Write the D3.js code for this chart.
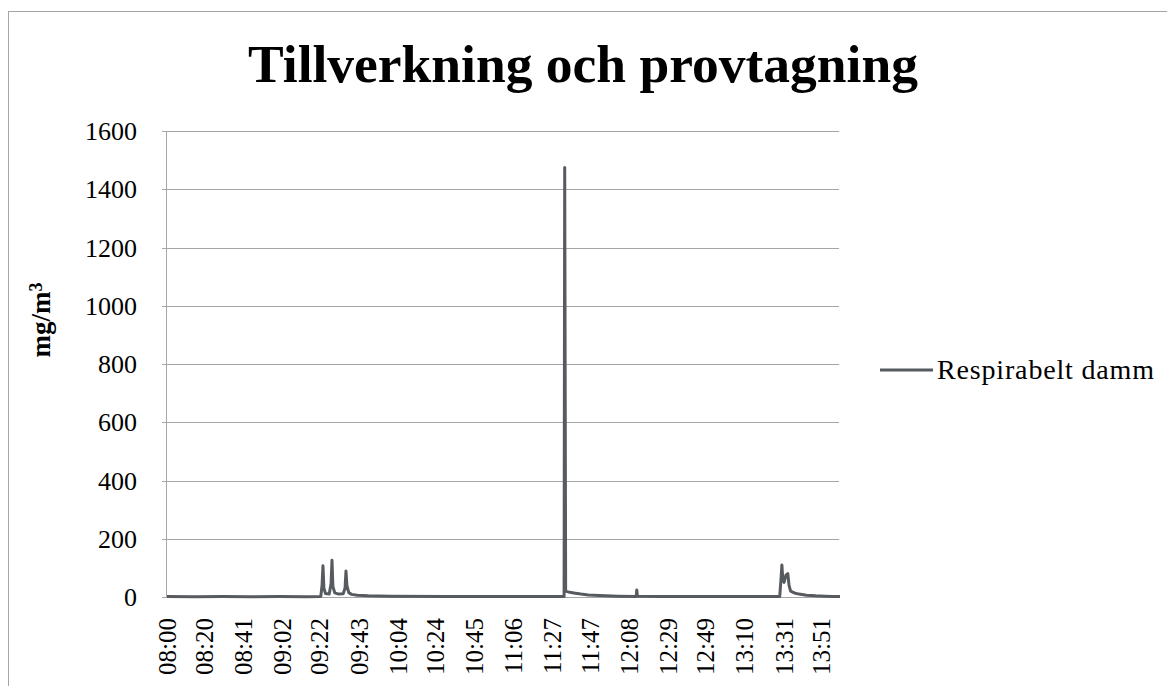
<!DOCTYPE html>
<html>
<head>
<meta charset="utf-8">
<script src="https://cdn.jsdelivr.net/npm/d3@7"></script>
<style>
  body { margin: 0; background: #fff; }
  svg { display: block; }
</style>
</head>
<body>
<svg></svg>
<script>
const width = 1167;
const height = 686;

// measurements, Respirabelt damm (mg/m3)
const times = [
  "08:00", "08:15", "08:30", "08:45", "09:00", "09:15", "09:22:30",
  "09:23:10", "09:23:40", "09:24:10", "09:25", "09:27",
  "09:28:00", "09:28:30", "09:29:00", "09:30", "09:32", "09:34:30",
  "09:35:30", "09:36:00", "09:36:30", "09:37:30", "09:39", "09:42", "09:48",
  "10:00", "10:30", "11:00", "11:30", "11:33:00",
  "11:33:20", "11:33:50", "11:36", "11:39", "11:42", "11:46", "11:52", "12:02",
  "12:11:40", "12:12:00", "12:12:20", "12:25", "13:00", "13:28:40",
  "13:29:20", "13:29:50", "13:30:20", "13:31:00", "13:32:00", "13:33:00", "13:33:40",
  "13:34:30", "13:36:30", "13:39", "13:43", "13:48", "13:53", "13:57", "14:01"
];
const values = [
  2, 1, 2, 1, 2, 1, 2,
  40, 107, 30, 12, 10,
  45, 126, 35, 14, 10, 11,
  30, 89, 40, 15, 9, 6, 4,
  3, 2, 2, 2, 2,
  1475, 20, 16, 13, 10, 7, 5, 3,
  2, 24, 3, 2, 2, 2,
  60, 110, 60, 50, 75, 80, 40,
  20, 14, 10, 6, 4, 3, 2, 2
];
const tickLabels = ["08:00", "08:20", "08:41", "09:02", "09:22", "09:43", "10:04", "10:24",
  "10:45", "11:06", "11:27", "11:47", "12:08", "12:29", "12:49", "13:10", "13:31", "13:51"];
const yTicks = [0, 200, 400, 600, 800, 1000, 1200, 1400, 1600];
const seriesName = "Respirabelt damm";

// minutes since 08:00
function toMin(s) {
  const p = s.split(":").map(Number);
  return (p[0] - 8) * 60 + p[1] + (p[2] || 0) / 60;
}
const data = times.map((t, i) => ({ m: toMin(t), v: values[i] }));

const svg = d3.select("svg")
    .attr("width", width)
    .attr("height", height);

const serif = "'Liberation Serif', 'Times New Roman', serif";

// chart border
svg.append("rect")
    .attr("x", 8.5).attr("y", 11.5)
    .attr("width", 1200).attr("height", 700)
    .attr("fill", "none")
    .attr("stroke", "#a6a6a6");

const x = d3.scaleLinear()
    .domain([0, toMin("14:01")])
    .range([167, 840]);
const y = d3.scaleLinear()
    .domain([0, 1600])
    .range([597, 131]);

// gridlines
svg.append("g")
    .selectAll("line")
    .data(yTicks.filter(d => d > 0))
    .join("line")
    .attr("x1", 167).attr("x2", 839)
    .attr("y1", d => Math.round(y(d)) + 0.5)
    .attr("y2", d => Math.round(y(d)) + 0.5)
    .attr("stroke", "#a6a6a6");

// y axis
svg.append("line")
    .attr("x1", 166.5).attr("x2", 166.5)
    .attr("y1", 131).attr("y2", 597)
    .attr("stroke", "#a6a6a6");
svg.append("g")
    .selectAll("line")
    .data(yTicks)
    .join("line")
    .attr("x1", 162).attr("x2", 167)
    .attr("y1", d => Math.round(y(d)) + 0.5)
    .attr("y2", d => Math.round(y(d)) + 0.5)
    .attr("stroke", "#a6a6a6");
svg.append("g")
    .selectAll("text")
    .data(yTicks)
    .join("text")
    .attr("x", 137)
    .attr("y", d => y(d) + 9)
    .attr("text-anchor", "end")
    .style("font-family", serif)
    .style("font-size", "26px")
    .text(d => d);

// x axis
svg.append("line")
    .attr("x1", 167).attr("x2", 840)
    .attr("y1", 597.5).attr("y2", 597.5)
    .attr("stroke", "#a6a6a6");
svg.append("g")
    .selectAll("text")
    .data(tickLabels)
    .join("text")
    .attr("transform", d => `translate(${x(toMin(d))},618) rotate(-90)`)
    .attr("dy", "0.34em")
    .attr("text-anchor", "end")
    .style("font-family", serif)
    .style("font-size", "25px")
    .text(d => d);

// axis title
const yTitle = svg.append("text")
    .attr("transform", "translate(50,320) rotate(-90)")
    .attr("text-anchor", "middle")
    .style("font-family", serif)
    .style("font-size", "27px")
    .style("font-weight", "bold");
yTitle.append("tspan").text("mg/m");
yTitle.append("tspan")
    .attr("dy", "-0.45em")
    .style("font-size", "18px")
    .text("3");

// title
svg.append("text")
    .attr("x", 583)
    .attr("y", 82)
    .attr("text-anchor", "middle")
    .style("font-family", serif)
    .style("font-size", "53.5px")
    .style("font-weight", "bold")
    .text("Tillverkning och provtagning");

// series line
const line = d3.line()
    .x(d => x(d.m))
    .y(d => y(d.v));
svg.append("path")
    .datum(data)
    .attr("d", line)
    .attr("fill", "none")
    .attr("stroke", "#575b60")
    .attr("stroke-width", 3)
    .attr("stroke-linejoin", "round");

// legend
svg.append("line")
    .attr("x1", 880).attr("x2", 933)
    .attr("y1", 370).attr("y2", 370)
    .attr("stroke", "#575b60")
    .attr("stroke-width", 3);
svg.append("text")
    .attr("x", 937)
    .attr("y", 379)
    .attr("textLength", 217)
    .attr("lengthAdjust", "spacing")
    .style("font-family", serif)
    .style("font-size", "28px")
    .text(seriesName);
</script>
</body>
</html>
